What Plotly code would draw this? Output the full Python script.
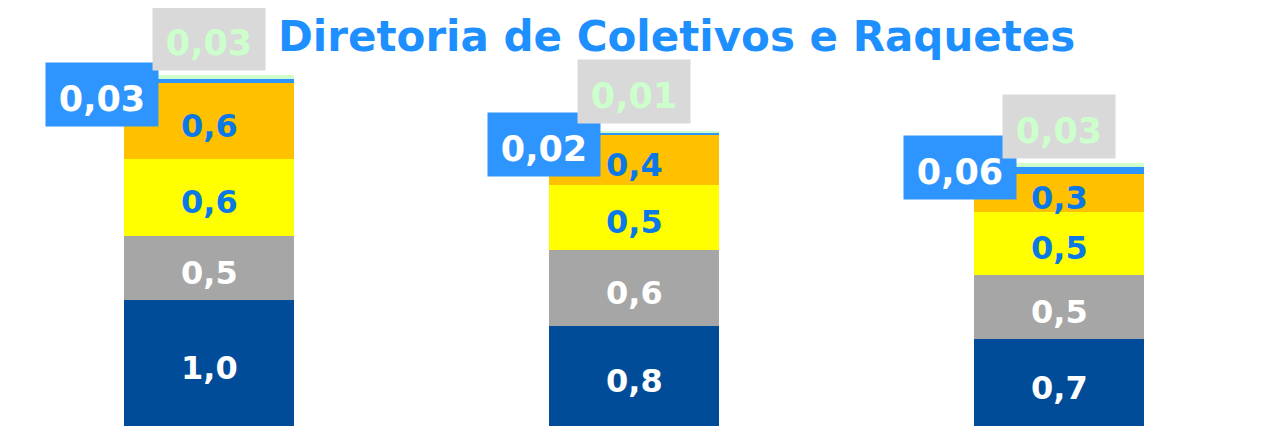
import plotly.graph_objects as go

# ---- data ----
categories = ["A", "B", "C"]
dark_blue = [1.00, 0.79, 0.69]
gray = [0.51, 0.61, 0.51]
yellow = [0.61, 0.51, 0.50]
orange = [0.60, 0.40, 0.30]
blue_small = [0.034, 0.021, 0.058]
green_small = [0.032, 0.010, 0.032]
title_text = "Diretoria de Coletivos e Raquetes"


def fmt(v, d):
    return f"{v:.{d}f}".replace(".", ",")


FONT = "DejaVu Sans"
LABEL_BLUE = "#0A78E6"

# page body has an 8px margin: figure pixel = screen pixel - 8
OFF = 8
W, H = 1268, 426
PX_PER_UNIT = 126
C0 = 209 - OFF           # figure x of first category centre
STEP = 425               # px between categories

series = [
    (dark_blue, "#004C99", "white", 1),
    (gray, "#A6A6A6", "white", 1),
    (yellow, "#FFFF00", LABEL_BLUE, 1),
    (orange, "#FFC000", LABEL_BLUE, 1),
    (blue_small, "#2E95FF", None, 2),
    (green_small, "#CCFFCC", None, 2),
]

fig = go.Figure()
annotations = []
base = [0.0] * len(categories)
for vals, col, tcol, d in series:
    fig.add_trace(go.Bar(
        x=categories, y=vals, width=0.4, marker=dict(color=col, line=dict(width=0)),
        textposition="none", hoverinfo="skip",
    ))
    if tcol:
        for i, cat in enumerate(categories):
            annotations.append(dict(
                x=cat, y=base[i] + vals[i] / 2, xref="x", yref="y",
                text=fmt(vals[i], d), showarrow=False, yshift=-5,
                font=dict(family=FONT, size=32, color=tcol, weight=700),
            ))
    base = [b + v for b, v in zip(base, vals)]

# small-segment callouts (box + slightly lowered text)
below_blue = [a + b + c + e for a, b, c, e in zip(dark_blue, gray, yellow, orange)]
blue_xshift = [-107, -90, -99]
blue_yshift = [-13, -11, 3]
gray_yshift = [4, 7, 4]
TEXT_DROP = 4


def callout(cat, y, txt, bg, fg, xshift, yshift, yanchor):
    common = dict(x=cat, y=y, xref="x", yref="y", showarrow=False,
                  width=112, height=63, borderpad=0, xshift=xshift,
                  yanchor=yanchor, align="center", valign="middle")
    annotations.append(dict(**common, text="&nbsp;", bgcolor=bg, yshift=yshift,
                            font=dict(family=FONT, size=35, color=bg, weight=700)))
    annotations.append(dict(**common, text=txt, yshift=yshift - TEXT_DROP,
                            font=dict(family=FONT, size=35, color=fg, weight=700)))


for i, cat in enumerate(categories):
    callout(cat, below_blue[i] + blue_small[i] / 2, fmt(blue_small[i], 2),
            "#2E95FF", "white", blue_xshift[i], blue_yshift[i], "middle")
for i, cat in enumerate(categories):
    callout(cat, below_blue[i] + blue_small[i] + green_small[i], fmt(green_small[i], 2),
            "#D9D9D9", "#CCFFCC", 0, gray_yshift[i], "bottom")

annotations.append(dict(
    x=(676 - OFF) / W, y=1 - (37 - OFF) / H, xref="paper", yref="paper", text=title_text,
    showarrow=False, xanchor="center", yanchor="middle",
    font=dict(family=FONT, size=42, color="#1E8FFF", weight=700),
))

plot_h = H - OFF
fig.update_layout(
    barmode="stack",
    width=W, height=H,
    margin=dict(l=0, r=0, t=0, b=OFF),
    paper_bgcolor="white", plot_bgcolor="white",
    showlegend=False,
    bargap=0,
    xaxis=dict(visible=False, range=[-C0 / STEP, (W - C0) / STEP]),
    yaxis=dict(visible=False, range=[0, plot_h / PX_PER_UNIT]),
    annotations=annotations,
)

fig.write_html("out.html")
